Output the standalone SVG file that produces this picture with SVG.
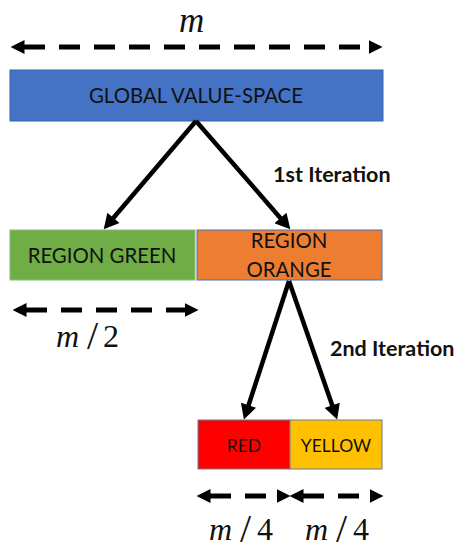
<svg xmlns="http://www.w3.org/2000/svg" width="458" height="552" viewBox="0 0 458 552">
  <style>
    .box-label { font-family: Lato, "Open Sans", sans-serif; font-size: 20.4px; fill: #111; text-anchor: middle; }
    .small-label { font-family: Lato, "Open Sans", sans-serif; font-size: 17.5px; fill: #111; text-anchor: middle; }
    .iter { font-family: Lato, "Open Sans", sans-serif; font-size: 21.5px; font-weight: bold; fill: #111; }
    .math { font-family: "Liberation Serif", "DejaVu Serif", serif; font-size: 32px; fill: #111; }
    .math .v { font-style: italic; }
    .math .sl { font-size: 40px; }
    .math.big { font-size: 35px; }
    .tree { stroke: #000; stroke-width: 4.5; fill: none; marker-end: url(#solid-head); }
    .span { stroke: #000; stroke-width: 5; fill: none; stroke-dasharray: 21 14; marker-start: url(#span-head); marker-end: url(#span-head); }
  </style>
  <defs>
    <marker id="solid-head" markerUnits="userSpaceOnUse" markerWidth="16" markerHeight="16" viewBox="0 0 15 16" refX="0.5" refY="8" orient="auto">
      <path d="M0,0 L15,8 L0,16 Z" fill="#000"/>
    </marker>
    <marker id="span-head" markerUnits="userSpaceOnUse" markerWidth="14" markerHeight="14" viewBox="0 0 14 14" refX="0.5" refY="7" orient="auto-start-reverse">
      <path d="M0,0 L14,7 L0,14 Z" fill="#000"/>
    </marker>
  </defs>

  <!-- width annotation of the whole space -->
  <g id="span-m">
    <line class="span" x1="24" y1="47" x2="369" y2="47"/>
    <text class="math big" x="179" y="32"><tspan class="v">m</tspan></text>
  </g>

  <g id="global">
    <rect x="10" y="70" width="373" height="51" fill="#4472C4" stroke="#3A63AD" stroke-width="1"/>
    <text class="box-label" x="196" y="103">GLOBAL VALUE-SPACE</text>
  </g>

  <g id="region-green">
    <rect x="10" y="230" width="185" height="50" fill="#70AD47" stroke="#8CBF6A" stroke-width="1"/>
    <text class="box-label" x="102" y="263">REGION GREEN</text>
  </g>

  <g id="region-orange">
    <rect x="197" y="230" width="185" height="50" fill="#ED7D31" stroke="#4472C4" stroke-width="1"/>
    <text class="box-label" x="289" y="248">REGION</text>
    <text class="box-label" x="289" y="277">ORANGE</text>
  </g>

  <g id="span-m2">
    <line class="span" x1="26" y1="310" x2="185" y2="310"/>
    <text class="math" y="347"><tspan class="v" x="56">m</tspan><tspan class="sl" x="87" y="349">/</tspan><tspan x="103" y="347">2</tspan></text>
  </g>

  <g id="red">
    <rect x="198" y="420" width="92" height="49" fill="#FF0000" stroke="#6A7C95" stroke-width="1"/>
    <text class="small-label" x="244" y="452">RED</text>
  </g>

  <g id="yellow">
    <rect x="290" y="420" width="92" height="49" fill="#FFC000" stroke="#6A7C95" stroke-width="1"/>
    <text class="small-label" x="336" y="452">YELLOW</text>
  </g>

  <g id="span-m4">
    <line class="span" x1="210" y1="496" x2="277" y2="496" stroke-dasharray="13 22 40"/>
    <line class="span" x1="303" y1="496" x2="370" y2="496" stroke-dasharray="13 22 40"/>
    <text class="math" y="540"><tspan class="v" x="209">m</tspan><tspan class="sl" x="240" y="542">/</tspan><tspan x="257" y="540">4</tspan></text>
    <text class="math" y="540"><tspan class="v" x="305">m</tspan><tspan class="sl" x="336" y="542">/</tspan><tspan x="353" y="540">4</tspan></text>
  </g>

  <!-- split connectors -->
  <g id="connectors">
    <line class="tree" x1="196" y1="121" x2="113.1" y2="218.3"/>
    <line class="tree" x1="196" y1="121" x2="280.8" y2="218.4"/>
    <line class="tree" x1="289" y1="281" x2="248.4" y2="405.7"/>
    <line class="tree" x1="289" y1="281" x2="332.4" y2="405.8"/>
  </g>

  <g id="iteration-labels">
    <text class="iter" x="273" y="182">1st Iteration</text>
    <text class="iter" x="330" y="356">2nd Iteration</text>
  </g>
</svg>
